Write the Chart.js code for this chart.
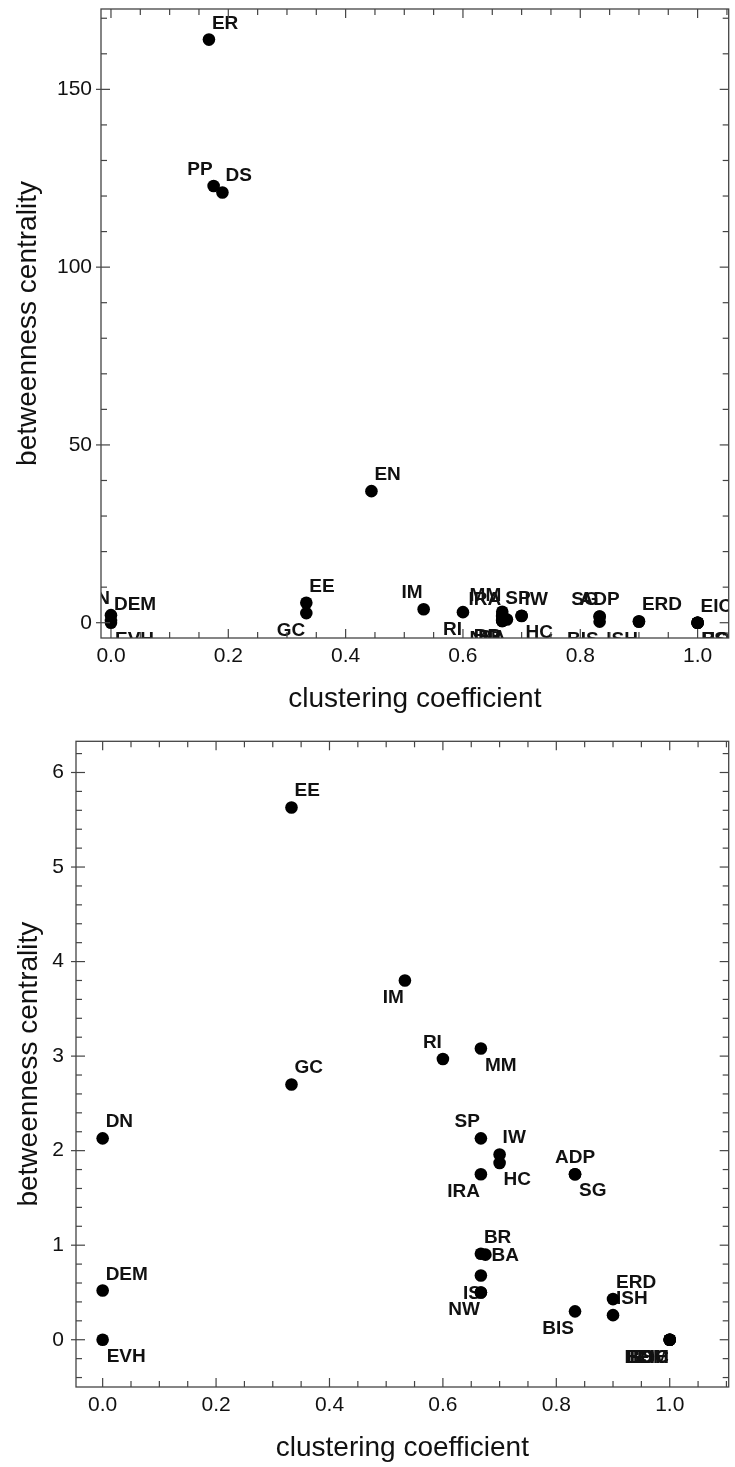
<!DOCTYPE html>
<html>
<head>
<meta charset="utf-8">
<script src="https://cdn.jsdelivr.net/npm/chart.js@4.4.1/dist/chart.umd.min.js"></script>
<style>
  html, body { margin: 0; padding: 0; background: #fff; }
  #wrap { position: relative; width: 735px; height: 1467px; }
  canvas { position: absolute; left: 0; }
  #topChart { top: 0; }
  #bottomChart { top: 735px; }
</style>
</head>
<body>
<div id="wrap">
  <canvas id="topChart" width="735" height="735"></canvas>
  <canvas id="bottomChart" width="735" height="732"></canvas>
</div>
<script>
// node names, clustering coefficient, betweenness centrality
const names = ['ER', 'PP', 'DS', 'EN', 'EE', 'GC', 'IM', 'RI', 'MM', 'SP',
  'IW', 'HC', 'IRA', 'ADP', 'SG', 'DN', 'DEM', 'EVH', 'BR', 'BA',
  '', 'IS', 'NW', 'ERD', 'ISH', 'BIS', 'EIC', 'BOC', 'ESH', 'HOM'];
const clustering = [0.167, 0.175, 0.19, 0.444, 0.333, 0.333, 0.533, 0.6, 0.667, 0.667,
  0.7, 0.7, 0.667, 0.833, 0.833, 0, 0, 0, 0.667, 0.675,
  0.667, 0.667, 0.667, 0.9, 0.9, 0.833, 1.0, 1.0, 1.0, 1.0];
const betweenness = [164, 122.8, 121, 37, 5.63, 2.70, 3.80, 2.97, 3.08, 2.13,
  1.96, 1.87, 1.75, 1.75, 1.75, 2.13, 0.52, 0, 0.91, 0.90,
  0.68, 0.50, 0.50, 0.43, 0.26, 0.30, 0, 0, 0, 0];

// tick labels
const xTicks = [0, 0.2, 0.4, 0.6, 0.8, 1.0];
const topYTicks = [0, 50, 100, 150];
const bottomYTicks = [0, 1, 2, 3, 4, 5, 6];

// where each label sits around its point (per panel)
const topPlace = ['ur', 'ul', 'ur', 'ur', 'ur', 'll', 'ul', 'll', 'ul', 'ur',
  'ur', 'lr', 'ul', 'u', 'ul', 'ul', 'ur', 'lr', 'll', 'll',
  '', 'll', 'll', 'ur', 'll', 'll', 'ur', 'lr', 'lr', 'lr'];
const bottomPlace = ['ur', 'ul', 'ur', 'ur', 'ur', 'ur', 'll', 'ul', 'lr', 'ul',
  'ur', 'lr', 'll', 'u', 'lr', 'ur', 'ur', 'lr', 'ur', 'r',
  '', 'l', 'll', 'ur', 'ur', 'll', 'll', 'll', 'll', 'll'];

const FONT = '"Liberation Sans", Arial, Helvetica, sans-serif';
Chart.defaults.font.family = FONT;
Chart.defaults.color = '#111';

const anchors = {
  ur: [3, -11, 'left'],
  ul: [-1, -11, 'right'],
  u: [0, -11, 'center'],
  lr: [4, 22, 'left'],
  ll: [-1, 23, 'right'],
  r: [6, 6.5, 'left'],
  l: [0, 6.5, 'right']
};

// labels are drawn under the dots, clipped to the frame
const pointLabels = {
  id: 'pointLabels',
  beforeDatasetsDraw(chart, args, opts) {
    const { ctx, chartArea: a } = chart;
    const meta = chart.getDatasetMeta(0);
    ctx.save();
    ctx.beginPath();
    ctx.rect(a.left, a.top, a.right - a.left, a.bottom - a.top);
    ctx.clip();
    ctx.font = 'bold 19px ' + FONT;
    ctx.fillStyle = '#111';
    ctx.textBaseline = 'alphabetic';
    meta.data.forEach((pt, i) => {
      const pos = opts.place[i];
      if (!names[i] || !pos) return;
      const [dx, dy, align] = anchors[pos];
      ctx.textAlign = align;
      ctx.fillText(names[i], pt.x + dx, pt.y + dy);
    });
    ctx.restore();
  }
};

// frame with inward major/minor ticks on all four sides
const frameTicks = {
  id: 'frameTicks',
  afterDraw(chart, args, opts) {
    const { ctx, chartArea: a, scales: { x, y } } = chart;
    const line = (x1, y1, x2, y2) => {
      ctx.beginPath(); ctx.moveTo(x1, y1); ctx.lineTo(x2, y2); ctx.stroke();
    };
    ctx.save();
    ctx.strokeStyle = '#444';
    ctx.lineWidth = 1.3;
    ctx.strokeRect(a.left, a.top, a.right - a.left, a.bottom - a.top);
    ctx.lineWidth = 1.2;
    const inX = v => { const p = x.getPixelForValue(v); return p >= a.left - 0.5 && p <= a.right + 0.5 ? p : null; };
    const inY = v => { const p = y.getPixelForValue(v); return p >= a.top - 0.5 && p <= a.bottom + 0.5 ? p : null; };
    for (let i = -10; i <= 40; i++) {
      const v = i * opts.xMinor;
      const p = inX(v);
      if (p === null) continue;
      const major = xTicks.some(t => Math.abs(t - v) < 1e-9);
      const len = major ? 9 : 6;
      line(p, a.bottom, p, a.bottom - len);
      line(p, a.top, p, a.top + len);
    }
    for (let i = -10; i <= 40; i++) {
      const v = i * opts.yMinor;
      const p = inY(v);
      if (p === null) continue;
      const major = opts.yTicks.some(t => Math.abs(t - v) < 1e-9);
      const len = major ? 9 : 6;
      line(major ? a.left - 5 : a.left, p, a.left + len, p);
      line(a.right, p, a.right - len, p);
    }
    ctx.restore();
  }
};

function makeChart(id, cfg) {
  return new Chart(document.getElementById(id), {
    type: 'scatter',
    data: {
      datasets: [{
        data: clustering.map((c, i) => ({ x: c, y: betweenness[i] })),
        backgroundColor: '#000',
        borderColor: '#000',
        borderWidth: 0,
        pointRadius: 6.3,
        pointHoverRadius: 6.3,
        clip: 0
      }]
    },
    options: {
      responsive: false,
      animation: false,
      layout: { padding: cfg.padding },
      plugins: {
        legend: { display: false },
        tooltip: { enabled: false },
        pointLabels: { place: cfg.place },
        frameTicks: { xMinor: 0.05, yMinor: cfg.yMinor, yTicks: cfg.yTicks }
      },
      scales: {
        x: {
          type: 'linear',
          min: cfg.xMin,
          max: cfg.xMax,
          afterFit: s => { s.height = cfg.xHeight; s.paddingLeft = 0; s.paddingRight = 0; },
          afterBuildTicks: s => { s.ticks = xTicks.map(v => ({ value: v })); },
          grid: { display: false, drawTicks: false },
          border: { display: false },
          ticks: { padding: 6, font: { size: 21 }, color: '#111', maxRotation: 0,
            callback: v => Number(v).toFixed(1) },
          title: { display: true, text: 'clustering coefficient', color: '#111',
            font: { size: 28 }, padding: { top: 0, bottom: cfg.xTitlePad } }
        },
        y: {
          type: 'linear',
          min: cfg.yMin,
          max: cfg.yMax,
          afterFit: s => { s.width = cfg.yWidth; s.paddingTop = 0; s.paddingBottom = 0; },
          afterBuildTicks: s => { s.ticks = cfg.yTicks.map(v => ({ value: v })); },
          grid: { display: false, drawTicks: false },
          border: { display: false },
          ticks: { padding: cfg.yTickPad, font: { size: 21 }, color: '#111',
            callback: v => String(v) },
          title: { display: true, text: 'betweenness centrality', color: '#111',
            font: { size: 28 }, padding: { top: cfg.yTitlePad, bottom: 0 } }
        }
      }
    },
    plugins: [pointLabels, frameTicks]
  });
}

makeChart('topChart', {
  padding: { top: 9, right: 0, left: 0, bottom: 0 },
  xMin: -0.017, xMax: 1.053, yMin: -4.3, yMax: 172.6,
  xHeight: 97, yWidth: 101, yTicks: topYTicks, yMinor: 10,
  yTickPad: 9, xTitlePad: 19, yTitlePad: 11, place: topPlace
});

makeChart('bottomChart', {
  padding: { top: 2, right: 0, left: 0, bottom: 0 },
  xMin: -0.047, xMax: 1.104, yMin: -0.5, yMax: 6.33,
  xHeight: 80, yWidth: 76, yTicks: bottomYTicks, yMinor: 0.2,
  yTickPad: 12, xTitlePad: 2, yTitlePad: 12, place: bottomPlace
});
</script>
</body>
</html>
